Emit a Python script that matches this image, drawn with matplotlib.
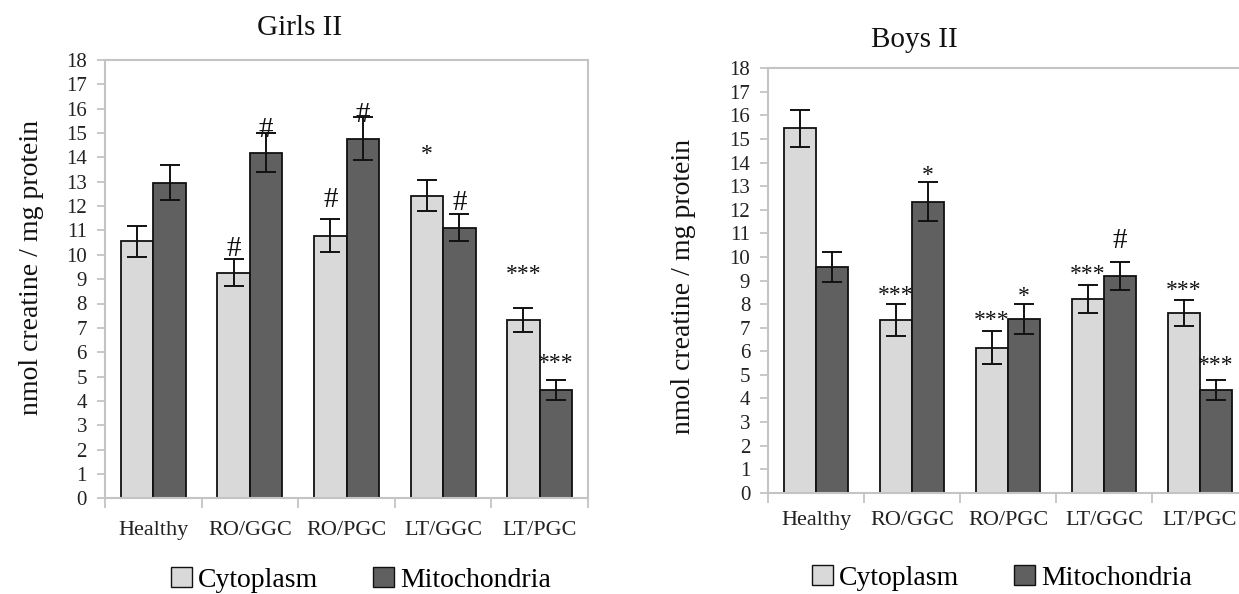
import numpy as np
import matplotlib
matplotlib.use('Agg')
import matplotlib.pyplot as plt
from matplotlib.patches import Patch

plt.rcParams['font.family'] = ['Liberation Serif', 'DejaVu Serif']

groups = ['Healthy', 'RO/GGC', 'RO/PGC', 'LT/GGC', 'LT/PGC']

# Girls II
girls_cyto = [10.55, 9.27, 10.79, 12.43, 7.33]
girls_cyto_err = [0.62, 0.56, 0.69, 0.65, 0.50]
girls_mito = [12.95, 14.2, 14.77, 11.12, 4.44]
girls_mito_err = [0.72, 0.80, 0.87, 0.55, 0.42]
girls_cyto_sig = ['', '#', '#', '*', '***']
girls_mito_sig = ['', '#', '#', '#', '***']
girls_cyto_sig_y = [0, 10.37, 12.36, 14.44, 9.51]
girls_mito_sig_y = [0, 15.25, 15.88, 12.25, 5.84]

# Boys II
boys_cyto = [15.45, 7.32, 6.15, 8.21, 7.61]
boys_cyto_err = [0.78, 0.67, 0.70, 0.60, 0.55]
boys_mito = [9.56, 12.34, 7.37, 9.19, 4.36]
boys_mito_err = [0.64, 0.82, 0.62, 0.60, 0.42]
boys_cyto_sig = ['', '***', '***', '***', '***']
boys_mito_sig = ['', '*', '*', '#', '***']
boys_cyto_sig_y = [0, 8.71, 7.61, 9.58, 8.90]
boys_mito_sig_y = [0, 13.76, 8.67, 10.79, 5.74]

c_cyto = '#d9d9d9'
c_mito = '#606060'
grid_c = '#c4c4c4'
W, H = 1239, 594

fig = plt.figure(figsize=(12.39, 5.94), dpi=100)


def sig_text(ax, x, y, s):
    if not s:
        return
    # place the glyph's visual centre at y
    if s == '#':
        fs, shift = 21, 0.34 * 21
    else:
        fs, shift = 17, 0.56 * 17
    ax.annotate(s, (x, y), xytext=(0, -shift), textcoords='offset points',
                ha='center', va='baseline', fontsize=fs, color='#111111')


def draw(ax, cyto, cerr, mito, merr, csig, msig, csy, msy, xpad):
    x = np.arange(len(groups))
    w = 0.336
    ekw = dict(ecolor='#111111', elinewidth=1.4, capsize=7, capthick=1.4)
    ax.bar(x - w / 2, cyto, w, color=c_cyto, edgecolor='#111111', linewidth=1.3,
           yerr=cerr, error_kw=ekw)
    ax.bar(x + w / 2, mito, w, color=c_mito, edgecolor='#111111', linewidth=1.3,
           yerr=merr, error_kw=ekw)
    for i in range(len(groups)):
        sig_text(ax, x[i] - w / 2, csy[i], csig[i])
        sig_text(ax, x[i] + w / 2, msy[i], msig[i])
    ax.set_xlim(-0.5, len(groups) - 0.5)
    ax.set_ylim(0, 18)
    ax.set_yticks(range(0, 19))
    ax.set_xticks(np.arange(len(groups) + 1) - 0.5)
    ax.set_xticklabels([])
    ax.set_xticks(x, minor=True)
    ax.set_xticklabels(groups, minor=True, fontsize=16, color='#222222')
    ax.tick_params(axis='x', which='major', length=7, color=grid_c, width=1.3)
    ax.tick_params(axis='x', which='minor', length=0, pad=xpad)
    ax.tick_params(axis='y', length=6, color=grid_c, width=1.3, labelsize=15,
                   labelcolor='#222222', pad=7)
    for sp in ax.spines.values():
        sp.set_color(grid_c)
        sp.set_linewidth(1.5)


ax1 = fig.add_axes([105 / W, 1 - 498.3 / H, (588 - 105) / W, (498.3 - 60) / H])
draw(ax1, girls_cyto, girls_cyto_err, girls_mito, girls_mito_err,
     girls_cyto_sig, girls_mito_sig, girls_cyto_sig_y, girls_mito_sig_y, 16)

ax2 = fig.add_axes([768.3 / W, 1 - 492.7 / H, 479.5 / W, (492.7 - 68.3) / H])
draw(ax2, boys_cyto, boys_cyto_err, boys_mito, boys_mito_err,
     boys_cyto_sig, boys_mito_sig, boys_cyto_sig_y, boys_mito_sig_y, 13)

fig.text(300 / W, 1 - 28 / H, 'Girls II', ha='center', va='center', fontsize=21, color='#111111')
fig.text(914 / W, 1 - 40 / H, 'Boys II', ha='center', va='center', fontsize=21, color='#111111')

fig.text(32 / W, 1 - 267 / H, 'nmol creatine / mg protein', rotation=90,
         ha='center', va='center', fontsize=20, color='#111111')
fig.text(684 / W, 1 - 286 / H, 'nmol creatine / mg protein', rotation=90,
         ha='center', va='center', fontsize=20, color='#111111')

handles = [Patch(facecolor=c_cyto, edgecolor='#111111', linewidth=1.0, label='Cytoplasm'),
           Patch(facecolor=c_mito, edgecolor='#111111', linewidth=1.0, label='Mitochondria')]
for cx, cy in [(361, 580), (1002, 578)]:
    fig.legend(handles=handles, loc='center', bbox_to_anchor=(cx / W, 1 - cy / H),
               ncol=2, frameon=False, fontsize=20, handlelength=0.75, handleheight=0.75,
               handletextpad=0.2, columnspacing=2.0, borderpad=0, borderaxespad=0)

fig.savefig('out.png', dpi=100)
